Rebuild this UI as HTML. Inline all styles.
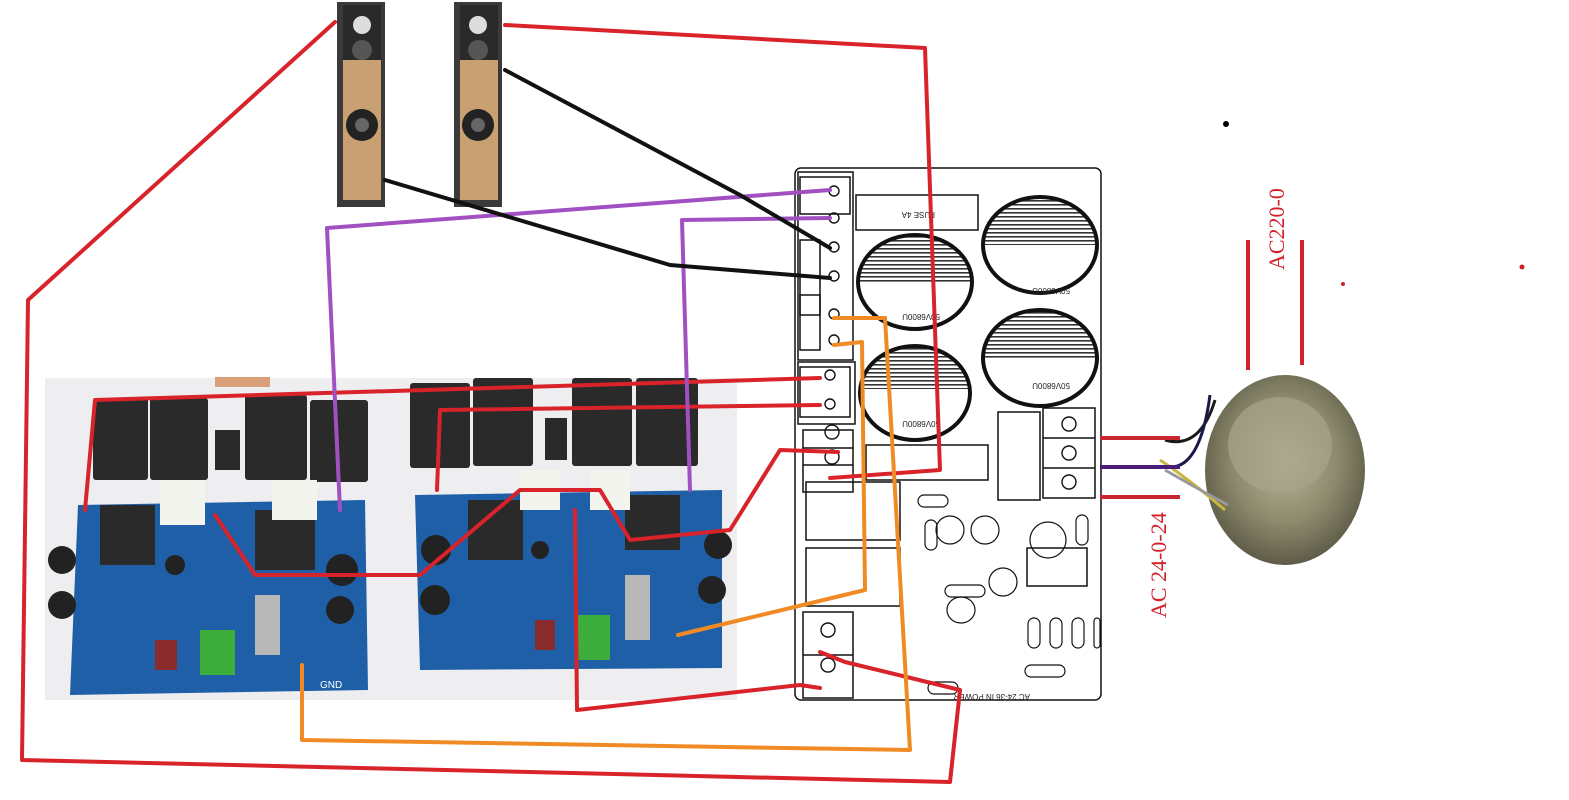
<!DOCTYPE html>
<html><head><meta charset="utf-8"><style>
html,body{margin:0;padding:0;background:#fff;width:1569px;height:800px;overflow:hidden}
</style></head><body>
<svg width="1569" height="800" viewBox="0 0 1569 800" xmlns="http://www.w3.org/2000/svg" font-family="Liberation Sans, sans-serif">
<defs>
<pattern id="hatch" width="6" height="4" patternUnits="userSpaceOnUse"><rect width="6" height="4" fill="#fff"/><rect width="6" height="1.6" fill="#333"/></pattern>
<clipPath id="c1"><ellipse cx="915" cy="282" rx="57" ry="47"/></clipPath>
<clipPath id="c2"><ellipse cx="1040" cy="245" rx="57" ry="48"/></clipPath>
<clipPath id="c3"><ellipse cx="1040" cy="358" rx="57" ry="48"/></clipPath>
<clipPath id="c4"><ellipse cx="915" cy="393" rx="55" ry="47"/></clipPath>
<radialGradient id="tor" cx="50%" cy="45%" r="55%"><stop offset="0" stop-color="#b8b49a"/><stop offset="0.6" stop-color="#8c8a6c"/><stop offset="1" stop-color="#5e5c48"/></radialGradient>
</defs>

<!-- PCB photo area -->
<rect x="45" y="378" width="692" height="322" fill="#eeeef0"/>
<rect x="215" y="377" width="55" height="10" fill="#d9a07a"/>
<!-- left board -->
<polygon points="78,505 365,500 368,690 70,695" fill="#1e5fa8"/>
<!-- right board -->
<polygon points="415,495 722,490 722,668 420,670" fill="#1e5fa8"/>
<!-- transistors left -->
<g fill="#2a2a2a">
<rect x="93" y="398" width="55" height="82" rx="3"/><rect x="150" y="398" width="58" height="82" rx="3"/>
<rect x="245" y="395" width="62" height="85" rx="3"/><rect x="310" y="400" width="58" height="82" rx="3"/>
<rect x="215" y="430" width="25" height="40"/>
<rect x="410" y="383" width="60" height="85" rx="3"/><rect x="473" y="378" width="60" height="88" rx="3"/>
<rect x="572" y="378" width="60" height="88" rx="3"/><rect x="636" y="378" width="62" height="88" rx="3"/>
<rect x="545" y="418" width="22" height="42"/>
<rect x="100" y="505" width="55" height="60"/><rect x="255" y="510" width="60" height="60"/>
<rect x="468" y="500" width="55" height="60"/><rect x="625" y="495" width="55" height="55"/>
</g>
<g fill="#f4f4ee"><rect x="160" y="480" width="45" height="45"/><rect x="272" y="480" width="45" height="40"/><rect x="520" y="470" width="40" height="40"/><rect x="590" y="470" width="40" height="40"/></g>
<g fill="#222"><circle cx="62" cy="560" r="14"/><circle cx="62" cy="605" r="14"/><circle cx="342" cy="570" r="16"/><circle cx="340" cy="610" r="14"/><circle cx="436" cy="550" r="15"/><circle cx="435" cy="600" r="15"/><circle cx="718" cy="545" r="14"/><circle cx="712" cy="590" r="14"/><circle cx="175" cy="565" r="10"/><circle cx="540" cy="550" r="9"/></g>
<rect x="200" y="630" width="35" height="45" fill="#3dae3c"/><rect x="575" y="615" width="35" height="45" fill="#3dae3c"/>
<rect x="255" y="595" width="25" height="60" fill="#b8b8b8"/><rect x="625" y="575" width="25" height="65" fill="#b8b8b8"/>
<rect x="155" y="640" width="22" height="30" fill="#8b2c2c"/><rect x="535" y="620" width="20" height="30" fill="#8b2c2c"/>
<text x="320" y="688" font-size="10" fill="#fff">GND</text>

<!-- speakers -->
<g>
<rect x="337" y="2" width="48" height="205" fill="#3a3a3a"/>
<rect x="343" y="60" width="38" height="140" fill="#c9a071"/>
<rect x="343" y="5" width="38" height="55" fill="#2a2a2a"/>
<circle cx="362" cy="25" r="9" fill="#ddd"/><circle cx="362" cy="50" r="10" fill="#555"/>
<circle cx="362" cy="125" r="16" fill="#222"/><circle cx="362" cy="125" r="7" fill="#666"/>
<rect x="454" y="2" width="48" height="205" fill="#3a3a3a"/>
<rect x="460" y="60" width="38" height="140" fill="#c9a071"/>
<rect x="460" y="5" width="38" height="55" fill="#2a2a2a"/>
<circle cx="478" cy="25" r="9" fill="#ddd"/><circle cx="478" cy="50" r="10" fill="#555"/>
<circle cx="478" cy="125" r="16" fill="#222"/><circle cx="478" cy="125" r="7" fill="#666"/>
</g>

<!-- power board -->
<g stroke="#111" fill="none" stroke-width="1.5">
<rect x="795" y="168" width="306" height="532" rx="6" fill="#fff"/>
<rect x="798" y="172" width="55" height="188"/>
<rect x="800" y="177" width="50" height="37"/>
<rect x="800" y="240" width="20" height="75"/>
<rect x="800" y="295" width="20" height="55"/>
<rect x="798" y="362" width="57" height="62"/>
<rect x="800" y="367" width="50" height="50"/>
<rect x="803" y="430" width="50" height="62"/>
<line x1="803" y1="448" x2="853" y2="448"/><line x1="803" y1="465" x2="853" y2="465"/>
<rect x="856" y="195" width="122" height="35"/>
<rect x="866" y="445" width="122" height="35"/>
<rect x="806" y="482" width="94" height="58"/>
<rect x="806" y="548" width="94" height="58"/>
<rect x="803" y="612" width="50" height="86"/>
<line x1="803" y1="655" x2="853" y2="655"/>
<rect x="998" y="412" width="42" height="88"/>
<rect x="1043" y="408" width="52" height="90"/>
<line x1="1043" y1="438" x2="1095" y2="438"/><line x1="1043" y1="468" x2="1095" y2="468"/>
<rect x="1027" y="548" width="60" height="38"/>
</g>
<g fill="none" stroke="#111" stroke-width="1.4">
<circle cx="834" cy="191" r="5"/><circle cx="834" cy="218" r="5"/><circle cx="834" cy="247" r="5"/><circle cx="834" cy="276" r="5"/><circle cx="834" cy="314" r="5"/><circle cx="834" cy="340" r="5"/>
<circle cx="830" cy="375" r="5"/><circle cx="830" cy="404" r="5"/>
<circle cx="832" cy="432" r="7"/><circle cx="832" cy="457" r="7"/>
<circle cx="828" cy="630" r="7"/><circle cx="828" cy="665" r="7"/>
<circle cx="1069" cy="424" r="7"/><circle cx="1069" cy="453" r="7"/><circle cx="1069" cy="482" r="7"/>
</g>
<g>
<g clip-path="url(#c1)"><rect x="855" y="232" width="120" height="50" fill="url(#hatch)"/></g>
<ellipse cx="915" cy="282" rx="57" ry="47" fill="none" stroke="#111" stroke-width="4"/>
<g clip-path="url(#c2)"><rect x="980" y="195" width="120" height="50" fill="url(#hatch)"/></g>
<ellipse cx="1040" cy="245" rx="57" ry="48" fill="none" stroke="#111" stroke-width="4"/>
<g clip-path="url(#c3)"><rect x="980" y="308" width="120" height="50" fill="url(#hatch)"/></g>
<ellipse cx="1040" cy="358" rx="57" ry="48" fill="none" stroke="#111" stroke-width="4"/>
<g clip-path="url(#c4)"><rect x="858" y="344" width="115" height="45" fill="url(#hatch)"/></g>
<ellipse cx="915" cy="393" rx="55" ry="47" fill="none" stroke="#111" stroke-width="4"/>
</g>
<g font-size="8" fill="#222">
<text x="1020" y="292" transform="rotate(180 1045 290)">50V6800U</text>
<text x="1020" y="387" transform="rotate(180 1045 385)">50V6800U</text>
<text x="890" y="318" transform="rotate(180 915 316)">50V6800U</text>
<text x="890" y="425" transform="rotate(180 915 423)">50V6800U</text>
<text x="970" y="698" transform="rotate(180 1000 696)">AC 24-36 IN POWER</text>
<text x="895" y="218" transform="rotate(180 915 215)">FUSE   4A</text>
</g>
<g fill="none" stroke="#111" stroke-width="1.2">
<ellipse cx="950" cy="530" rx="14" ry="14"/><ellipse cx="985" cy="530" rx="14" ry="14"/>
<ellipse cx="1003" cy="582" rx="14" ry="14"/><ellipse cx="1048" cy="540" rx="18" ry="18"/>
<ellipse cx="961" cy="610" rx="14" ry="13"/><rect x="918" y="495" width="30" height="12" rx="6"/>
<rect x="925" y="520" width="12" height="30" rx="6"/><rect x="1076" y="515" width="12" height="30" rx="6"/>
<rect x="1028" y="618" width="12" height="30" rx="6"/><rect x="1050" y="618" width="12" height="30" rx="6"/><rect x="1072" y="618" width="12" height="30" rx="6"/><rect x="1094" y="618" width="6" height="30" rx="3"/>
<rect x="945" y="585" width="40" height="12" rx="6"/><rect x="1025" y="665" width="40" height="12" rx="6"/>
<rect x="928" y="682" width="30" height="12" rx="6"/>
</g>

<!-- transformer -->
<ellipse cx="1285" cy="470" rx="80" ry="95" fill="url(#tor)"/>
<ellipse cx="1280" cy="445" rx="52" ry="48" fill="#a8a48a" opacity="0.7"/>
<g stroke-width="3" fill="none">
<path d="M1165 440 Q1200 450 1215 400" stroke="#1a1a1a"/>
<path d="M1168 467 Q1200 470 1210 395" stroke="#1a1a4a"/>
<path d="M1160 460 Q1190 480 1225 510" stroke="#c9b73c"/>
<path d="M1165 470 Q1200 490 1228 505" stroke="#999"/>
</g>
<line x1="1248" y1="240" x2="1248" y2="370" stroke="#d32029" stroke-width="4"/>
<line x1="1302" y1="240" x2="1302" y2="365" stroke="#d32029" stroke-width="4"/>
<text x="0" y="0" font-family="Liberation Serif, serif" font-size="22" fill="#d32029" transform="translate(1284 270) rotate(-90)">AC220-0</text>
<text x="0" y="0" font-family="Liberation Serif, serif" font-size="22" fill="#d32029" transform="translate(1166 618) rotate(-90)">AC 24-0-24</text>
<circle cx="1226" cy="124" r="3" fill="#000"/><circle cx="1343" cy="284" r="2" fill="#c22"/><circle cx="1522" cy="267" r="2.5" fill="#c22"/>
<g stroke-width="4"><line x1="1100" y1="438" x2="1180" y2="438" stroke="#c9262f"/><line x1="1100" y1="467" x2="1180" y2="467" stroke="#4a1c7a"/><line x1="1100" y1="497" x2="1180" y2="497" stroke="#c9262f"/></g>

<!-- wires -->
<g fill="none" stroke-width="4" stroke-linejoin="round" stroke-linecap="round">
<polyline stroke="#d8232a" points="335,22 28,300 22,760 950,782 960,690 845,662 820,652"/>
<polyline stroke="#d8232a" points="505,25 925,48 940,470 830,478"/>
<polyline stroke="#d8232a" points="85,510 95,400 820,378"/>
<polyline stroke="#d8232a" points="437,490 440,410 820,405"/>
<polyline stroke="#d8232a" points="215,515 255,575 420,575 520,490 600,490 630,540 730,530 780,450 838,452"/>
<polyline stroke="#d8232a" points="575,510 577,710 800,685 820,688"/>
<polyline stroke="#f08a24" points="302,665 302,740 910,750 885,318 834,318"/>
<polyline stroke="#f08a24" points="678,635 865,590 862,342 834,345"/>
<polyline stroke="#a050c0" points="340,510 327,228 830,190"/>
<polyline stroke="#a050c0" points="690,490 682,220 830,218"/>
<polyline stroke="#111" points="385,180 670,265 830,278"/>
<polyline stroke="#111" points="505,70 740,195 830,248"/>
</g>
</svg>
</body></html>
